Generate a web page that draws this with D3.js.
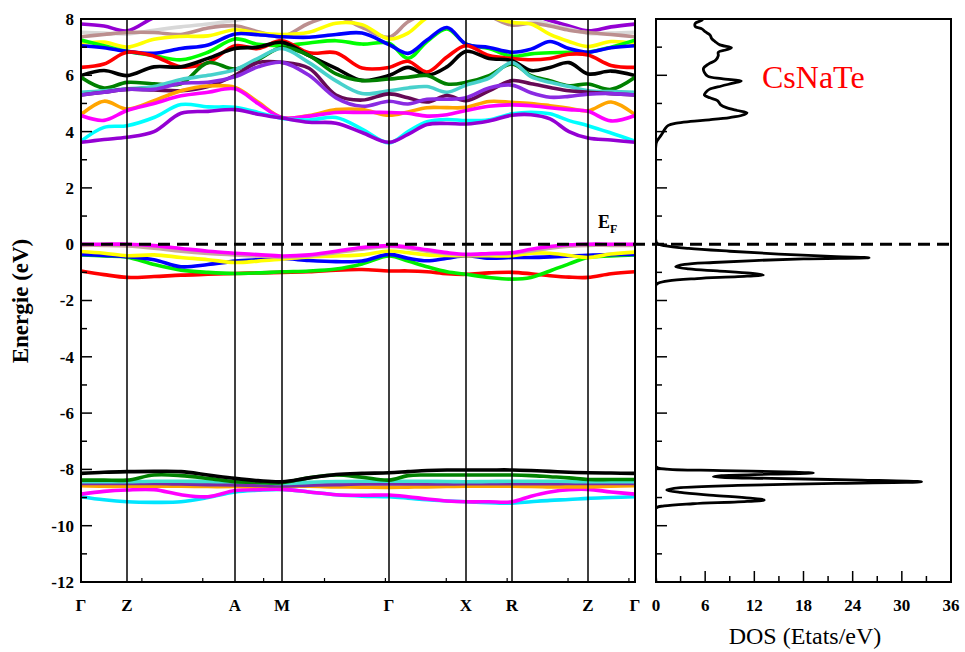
<!DOCTYPE html>
<html><head><meta charset="utf-8">
<script src="https://cdn.jsdelivr.net/npm/d3@7/dist/d3.min.js"></script>
<style>body{margin:0;background:#fff}svg{display:block;font-family:"Liberation Serif","Times New Roman",serif}</style>
</head><body><svg id="c" width="965" height="652"></svg>
<script>
// ---------- data ----------
const kLabels = ["Γ","Z","A","M","Γ","X","R","Z","Γ"];
const kTicks = [0,46,154,201,308,385,431,507,554];
const kGrid = [0,23,46,73,100,127,154,177,201,228,255,281,308,327,346,366,385,408,431,450,469,488,507,530,554];
const energyTicks = [8,6,4,2,0,-2,-4,-6,-8,-10,-12];
const dosTicks = [0,6,12,18,24,30,36];

// conduction bands (eV)
const cbViolet    = [3.62,3.72,3.80,4.0,4.65,4.72,4.78,4.62,4.48,4.33,4.30,3.97,3.62,3.9,4.25,4.29,4.27,4.38,4.58,4.6,4.45,4.0,3.77,3.7,3.62];
const cbCyan      = [3.66,4.15,4.21,4.5,4.96,4.88,4.86,4.68,4.47,4.41,4.5,4.09,3.6,4.0,4.35,4.43,4.39,4.42,4.63,4.69,4.63,4.39,4.21,3.95,3.66];
const cbMagenta   = [4.57,4.40,4.75,5.0,5.27,5.4,5.52,5.0,4.5,4.55,4.68,4.68,4.68,4.65,4.55,4.6,4.75,4.9,4.95,4.92,4.85,4.78,4.72,4.38,4.57];
const cbOrange    = [4.6,5.08,4.8,5.1,5.45,5.62,5.57,5.05,4.5,4.57,4.78,4.78,4.58,4.7,4.85,4.85,4.86,5.07,5.04,5.0,4.92,4.83,4.74,5.05,4.6];
const cbBlueViolet= [5.3,5.4,5.5,5.5,5.72,5.75,5.95,6.3,6.46,6.0,5.2,4.9,5.08,4.98,5.15,5.15,5.2,5.55,5.65,5.38,5.22,5.25,5.33,5.35,5.3];
const cbPlum      = [5.3,5.4,5.5,5.48,5.45,5.6,6.0,6.45,6.46,6.25,5.3,5.12,5.34,5.2,5.05,5.28,5.1,5.45,5.81,5.7,5.57,5.45,5.4,5.35,5.3];
const cbTurquoise = [5.4,5.45,5.52,5.6,5.85,6.0,6.2,6.6,6.95,6.45,5.8,5.35,5.45,5.55,5.6,5.4,5.65,5.9,6.45,5.95,5.75,5.6,5.45,5.42,5.4];
const cbGreen     = [5.93,5.55,5.75,5.7,5.7,6.45,6.22,6.55,6.99,6.7,6.05,5.81,5.87,5.93,5.99,5.69,5.75,5.99,6.4,5.99,5.81,5.63,5.69,5.5,5.93];
const cbBlack     = [5.99,6.17,5.99,6.3,6.3,6.6,6.95,7.0,7.17,6.7,6.25,5.82,5.99,6.28,6.0,6.3,6.85,6.6,6.52,6.17,6.28,6.45,6.05,6.15,5.99];
const cbRed       = [6.28,6.4,6.82,6.68,6.3,6.45,7.05,6.95,7.23,6.8,6.8,6.26,6.28,6.5,6.12,6.65,7.05,6.7,6.6,6.55,6.6,6.75,6.72,6.35,6.28];
const cbLime      = [7.25,7.05,6.85,6.7,6.55,6.82,7.29,7.1,7.05,7.15,7.23,7.11,7.14,6.6,7.2,7.65,7.11,6.95,6.68,6.76,6.8,6.82,6.82,7.0,7.25];
const cbBlue      = [7.05,6.98,6.85,6.78,6.95,7.08,7.47,7.44,7.37,7.35,7.45,7.5,7.09,6.78,7.25,7.7,7.11,6.99,6.82,6.93,7.2,6.95,6.82,6.98,7.05];
const cbYellow    = [7.13,7.18,7.0,7.28,7.38,7.4,7.62,7.5,7.45,7.53,7.85,7.8,7.29,7.5,8.05,8.3,8.3,8.1,7.88,7.82,7.45,7.2,7.02,7.2,7.13];
const cbBrown     = [7.37,7.45,7.52,7.52,7.45,7.68,7.76,7.55,7.37,7.85,8.1,7.7,7.35,7.9,8.2,8.3,8.3,8.1,7.78,7.85,7.75,7.6,7.52,7.45,7.37];
const cbGray      = [7.53,7.5,7.47,7.6,7.72,7.82,7.95,8.1,8.2,8.3,8.3,8.3,8.3,8.3,8.3,8.3,8.3,8.2,8.1,8.0,7.8,7.65,7.49,7.5,7.53];
const cbVioletHi  = [7.82,7.75,7.58,8.05,8.3,8.3,8.3,8.3,8.3,8.3,8.3,8.3,8.3,8.3,8.3,8.3,8.3,8.3,8.3,8.15,7.95,7.75,7.58,7.72,7.82];

// valence bands (eV)
const vbRed     = [-0.95,-1.08,-1.18,-1.15,-1.1,-1.07,-1.04,-1.02,-1.0,-0.98,-0.92,-0.9,-0.95,-0.95,-0.98,-1.05,-1.07,-1.02,-1.0,-1.05,-1.12,-1.17,-1.18,-1.05,-0.98];
const vbLime    = [-0.38,-0.42,-0.46,-0.72,-0.92,-1.0,-1.04,-1.02,-0.98,-0.95,-0.88,-0.7,-0.42,-0.6,-0.8,-0.98,-1.07,-1.18,-1.24,-1.18,-0.95,-0.7,-0.47,-0.42,-0.38];
const vbBlue    = [-0.36,-0.4,-0.44,-0.55,-0.8,-0.72,-0.6,-0.55,-0.51,-0.58,-0.62,-0.6,-0.36,-0.5,-0.59,-0.5,-0.41,-0.5,-0.47,-0.47,-0.45,-0.42,-0.39,-0.37,-0.36];
const vbYellow  = [-0.26,-0.32,-0.41,-0.38,-0.47,-0.55,-0.65,-0.6,-0.53,-0.45,-0.42,-0.38,-0.24,-0.3,-0.38,-0.4,-0.41,-0.41,-0.41,-0.32,-0.32,-0.4,-0.47,-0.35,-0.28];
const vbTan     = [-0.04,-0.04,-0.06,-0.14,-0.25,-0.33,-0.38,-0.42,-0.46,-0.42,-0.3,-0.18,-0.08,-0.14,-0.25,-0.34,-0.38,-0.36,-0.33,-0.24,-0.14,-0.07,-0.04,-0.04,-0.04];
const vbMagenta = [0.0,0.0,0.0,-0.05,-0.15,-0.25,-0.32,-0.37,-0.42,-0.38,-0.25,-0.12,-0.05,-0.1,-0.2,-0.3,-0.36,-0.33,-0.3,-0.18,-0.08,-0.02,0.0,0.0,0.0];

// semicore bands (eV)
const scCyan      = [-8.97,-9.08,-9.15,-9.17,-9.15,-9.0,-8.8,-8.74,-8.71,-8.8,-8.9,-8.95,-8.97,-9.02,-9.08,-9.12,-9.15,-9.18,-9.2,-9.15,-9.1,-9.07,-9.03,-9.0,-8.97];
const scMagenta   = [-8.88,-8.78,-8.73,-8.72,-8.9,-8.97,-8.75,-8.72,-8.71,-8.8,-8.9,-8.92,-8.91,-8.97,-9.05,-9.12,-9.15,-9.15,-9.15,-8.95,-8.8,-8.72,-8.71,-8.8,-8.88];
const scOrange    = [-8.58,-8.6,-8.6,-8.6,-8.6,-8.61,-8.61,-8.6,-8.6,-8.6,-8.62,-8.63,-8.64,-8.63,-8.62,-8.61,-8.6,-8.6,-8.6,-8.61,-8.62,-8.62,-8.62,-8.6,-8.58];
const scPurple    = [-8.5,-8.5,-8.5,-8.5,-8.52,-8.54,-8.55,-8.57,-8.59,-8.56,-8.54,-8.52,-8.52,-8.52,-8.52,-8.52,-8.51,-8.51,-8.51,-8.51,-8.51,-8.5,-8.5,-8.5,-8.5];
const scTurquoise = [-8.44,-8.44,-8.44,-8.42,-8.42,-8.43,-8.44,-8.46,-8.5,-8.46,-8.43,-8.42,-8.42,-8.42,-8.42,-8.43,-8.44,-8.43,-8.42,-8.42,-8.42,-8.43,-8.44,-8.44,-8.44];
const scGreen     = [-8.38,-8.38,-8.38,-8.2,-8.22,-8.32,-8.44,-8.46,-8.47,-8.3,-8.2,-8.28,-8.38,-8.22,-8.2,-8.2,-8.2,-8.2,-8.2,-8.22,-8.26,-8.3,-8.36,-8.36,-8.36];
const scBlack     = [-8.14,-8.1,-8.08,-8.07,-8.08,-8.2,-8.32,-8.4,-8.44,-8.3,-8.18,-8.14,-8.12,-8.08,-8.04,-8.02,-8.02,-8.02,-8.02,-8.04,-8.07,-8.1,-8.12,-8.13,-8.14];

// total DOS (energy eV, states/eV)
const dosEnergy = [8.1,7.96,7.85,7.73,7.65,7.55,7.43,7.3,7.2,7.08,6.98,6.9,6.82,6.7,6.54,6.4,6.25,6.1,5.97,5.88,5.8,5.72,5.62,5.5,5.4,5.3,5.2,5.1,4.95,4.85,4.75,4.67,4.58,4.5,4.42,4.36,4.3,4.22,4.1,3.95,3.8,3.65,3.55,0.1,0.02,-0.05,-0.15,-0.25,-0.35,-0.44,-0.48,-0.52,-0.58,-0.65,-0.72,-0.8,-0.88,-0.95,-1.03,-1.09,-1.15,-1.22,-1.3,-1.38,-1.45,-7.9,-7.98,-8.04,-8.1,-8.13,-8.17,-8.22,-8.26,-8.32,-8.38,-8.44,-8.5,-8.57,-8.65,-8.73,-8.82,-8.92,-9.02,-9.09,-9.15,-9.22,-9.3,-9.38,-12];
const dosValue  = [5.9,5.6,4.8,4.8,5.6,6.0,6.6,6.8,7.2,7.8,9.2,8.5,7.6,7.6,7.3,6.4,5.8,5.9,6.3,8.0,10.4,9.4,8.0,6.5,6.1,5.9,6.6,7.5,7.9,8.6,9.9,11.1,10.5,9.0,6.5,4.2,2.5,1.5,1.1,0.8,0.45,0.1,0,0,0.15,1.0,4,9,15,22,26,18,12,7,3.5,2.4,4,7.5,11.5,13.1,10,5,1.5,0.3,0,0,1,8,17,19.2,14,8,7,14,25,32.4,22,10,3,1.3,3,7,11.5,13.2,10,4.5,1,0,0];

// ---------- drawing ----------
const svg = d3.select("#c");
const FONT = '"Liberation Serif","Times New Roman",serif';
const x = d3.scaleLinear().domain([0,554]).range([81,635]);
const y = d3.scaleLinear().domain([-12,8]).range([582,19]);
const xd = d3.scaleLinear().domain([0,36]).range([656,951]);

svg.append("defs").append("clipPath").attr("id","bandClip")
  .append("rect").attr("x",81).attr("y",19).attr("width",554).attr("height",563);
svg.select("defs").append("clipPath").attr("id","dosClip")
  .append("rect").attr("x",656).attr("y",19).attr("width",295).attr("height",563);

const bands = [
  [scCyan,"#00e5ff"],[scMagenta,"#ff00ff"],[scOrange,"#ffa500"],[scPurple,"#7a2aa8"],
  [scTurquoise,"#40e0d0"],[scGreen,"#008000"],[scBlack,"#000000"],
  [vbRed,"#ff0000"],[vbLime,"#00ee00"],[vbBlue,"#0000ff"],[vbYellow,"#ffff00"],[vbTan,"#c8a8a0"],[vbMagenta,"#ff00ff"],
  [cbVioletHi,"#9400d3"],[cbGray,"#d8d8d8"],[cbBrown,"#bc8f8f"],[cbYellow,"#ffff00"],
  [cbLime,"#00ff00"],[cbBlue,"#0000ff"],[cbRed,"#ff0000"],[cbBlack,"#000000"],[cbGreen,"#008000"],
  [cbTurquoise,"#48d1cc"],[cbPlum,"#660a55"],[cbBlueViolet,"#8a2be2"],
  [cbOrange,"#ffa500"],[cbMagenta,"#ff00ff"],[cbCyan,"#00ffff"],[cbViolet,"#9400d3"]
];

const line = d3.line().x((d,i)=>x(kGrid[i])).y(d=>y(d)).curve(d3.curveCatmullRom.alpha(0.5));
const gB = svg.append("g").attr("clip-path","url(#bandClip)");
bands.forEach(([vals,col])=>{
  gB.append("path").attr("d",line(vals)).attr("fill","none")
    .attr("stroke",col).attr("stroke-width",3.6).attr("stroke-linejoin","round");
});

// high-symmetry vertical lines
svg.append("g").selectAll("line").data(kTicks.slice(1,-1)).join("line")
  .attr("x1",d=>x(d)).attr("x2",d=>x(d)).attr("y1",19).attr("y2",582)
  .attr("stroke","#000").attr("stroke-width",1.5);

// frames
svg.append("rect").attr("x",81).attr("y",19).attr("width",554).attr("height",563)
  .attr("fill","none").attr("stroke","#000").attr("stroke-width",2);
svg.append("rect").attr("x",656).attr("y",19).attr("width",295).attr("height",563)
  .attr("fill","none").attr("stroke","#000").attr("stroke-width",2);

// y axis ticks (band panel) inside
const yMinor = d3.range(-11,8,2);
const gY = svg.append("g");
gY.selectAll(".maj").data(energyTicks).join("line").attr("x1",81).attr("x2",92)
  .attr("y1",d=>y(d)).attr("y2",d=>y(d)).attr("stroke","#000").attr("stroke-width",1.5);
gY.selectAll(".min").data(yMinor).join("line").attr("class","min").attr("x1",81).attr("x2",87)
  .attr("y1",d=>y(d)).attr("y2",d=>y(d)).attr("stroke","#000").attr("stroke-width",1.5);
gY.selectAll("text").data(energyTicks).join("text")
  .attr("x",74).attr("y",d=>y(d)).attr("dy","0.35em").attr("text-anchor","end")
  .attr("font-family",FONT).attr("font-weight","bold").attr("font-size",17).text(d=>d);

// DOS panel y ticks
const dosY = d3.range(-12,9,1);
svg.append("g").selectAll("line").data(dosY).join("line")
  .attr("x1",656).attr("x2",d=>d%2===0?667:662).attr("y1",d=>y(d)).attr("y2",d=>y(d))
  .attr("stroke","#000").attr("stroke-width",1.5);

// band x ticks (small, inside bottom)
const kMinor = d3.range(1,10).map(i=>i*554/9.1);
svg.append("g").selectAll("line").data(kMinor).join("line")
  .attr("x1",d=>x(d)).attr("x2",d=>x(d)).attr("y1",582).attr("y2",578)
  .attr("stroke","#000").attr("stroke-width",1.2);
svg.append("g").selectAll("text").data(kTicks).join("text")
  .attr("x",(d)=>x(d)).attr("y",611).attr("text-anchor","middle")
  .attr("font-family",FONT).attr("font-weight","bold").attr("font-size",17)
  .text((d,i)=>kLabels[i]);

// DOS x ticks
const dosMinor = d3.range(3,36,6);
svg.append("g").selectAll("line").data(dosTicks).join("line")
  .attr("x1",d=>xd(d)).attr("x2",d=>xd(d)).attr("y1",582).attr("y2",571)
  .attr("stroke","#000").attr("stroke-width",1.5);
svg.append("g").selectAll("line").data(dosMinor).join("line")
  .attr("x1",d=>xd(d)).attr("x2",d=>xd(d)).attr("y1",582).attr("y2",576)
  .attr("stroke","#000").attr("stroke-width",1.5);
svg.append("g").selectAll("text").data(dosTicks).join("text")
  .attr("x",d=>xd(d)).attr("y",611).attr("text-anchor","middle")
  .attr("font-family",FONT).attr("font-weight","bold").attr("font-size",17).text(d=>d);

// DOS curve
const dosLine = d3.line().x((d,i)=>xd(d)).y((d,i)=>y(dosEnergy[i])).curve(d3.curveCatmullRom.alpha(0.5));
svg.append("path").attr("clip-path","url(#dosClip)").attr("d",dosLine(dosValue))
  .attr("fill","none").attr("stroke","#000").attr("stroke-width",2.8).attr("stroke-linejoin","round");

// Fermi level
svg.append("line").attr("x1",82).attr("x2",951).attr("y1",y(0)).attr("y2",y(0))
  .attr("stroke","#000").attr("stroke-width",3).attr("stroke-dasharray","12,7");

// labels
const ef = svg.append("text").attr("x",598).attr("y",228).attr("font-family",FONT)
  .attr("font-weight","bold").attr("font-size",18);
ef.append("tspan").text("E");
ef.append("tspan").attr("font-size",12).attr("dy",5).text("F");

svg.append("text").attr("x",762).attr("y",88).attr("font-family",FONT)
  .attr("font-size",32).attr("fill","#ff0000").text("CsNaTe");

svg.append("text").attr("transform","translate(28,301) rotate(-90)").attr("text-anchor","middle")
  .attr("font-family",FONT).attr("font-weight","bold").attr("font-size",23).text("Energie (eV)");

svg.append("text").attr("x",805).attr("y",644).attr("text-anchor","middle")
  .attr("font-family",FONT).attr("font-size",24).text("DOS (Etats/eV)");
</script></body></html>
